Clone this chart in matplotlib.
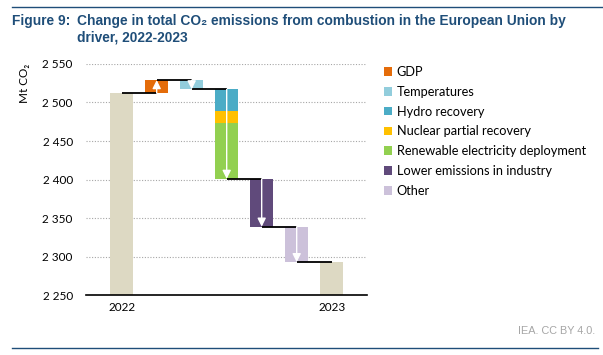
"""Waterfall of EU combustion CO2 emissions by driver, 2022-2023."""

import matplotlib.pyplot as plt
from matplotlib.patches import Patch

# data
start_label = "2022"
end_label = "2023"
start_value = 2512
drivers = [
    "GDP",
    "Temperatures",
    "Hydro recovery",
    "Nuclear partial recovery",
    "Renewable electricity deployment",
    "Lower emissions in industry",
    "Other",
]
changes = [17, -12, -28, -15, -73, -62, -46]
# drivers that share one stacked column (power sector)
power_stack = ["Hydro recovery", "Nuclear partial recovery", "Renewable electricity deployment"]
y_ticks = [2250, 2300, 2350, 2400, 2450, 2500, 2550]

colors = {
    "total": "#DDD9C3",
    "GDP": "#E46C0A",
    "Temperatures": "#92CDDC",
    "Hydro recovery": "#4BACC6",
    "Nuclear partial recovery": "#FFC000",
    "Renewable electricity deployment": "#92D050",
    "Lower emissions in industry": "#604A7B",
    "Other": "#CCC1DA",
}
BLUE = "#1F4E79"
FONT = ["Lato", "DejaVu Sans"]


def main() -> None:
    fig = plt.figure(figsize=(6.03, 3.55), dpi=100)
    ax = fig.add_axes([0.1426, 0.168, 0.4655, 0.652])
    width = 0.67

    # assign a column to every driver; the power drivers stack in one column
    slots = []
    slot = 0
    for i, name in enumerate(drivers):
        if not (i > 0 and name in power_stack and drivers[i - 1] in power_stack):
            slot += 1
        slots.append(slot)
    end_slot = slot + 1

    ax.bar(0, start_value - y_ticks[0], bottom=y_ticks[0], width=width,
           color=colors["total"], zorder=2)

    level = start_value
    slot_start = {}
    slot_end = {}
    for name, delta, s in zip(drivers, changes, slots):
        slot_start.setdefault(s, level)
        ax.bar(s, abs(delta), bottom=min(level, level + delta), width=width,
               color=colors[name], zorder=2)
        level += delta
        slot_end[s] = level
    end_value = level

    ax.bar(end_slot, end_value - y_ticks[0], bottom=y_ticks[0], width=width,
           color=colors["total"], zorder=2)

    # connectors from the centre of one column to the centre of the next
    prev_level = start_value
    for s in range(1, end_slot + 1):
        ax.plot([s - 1, s], [prev_level, prev_level], color="black", lw=1.3,
                solid_capstyle="butt", zorder=3)
        if s in slot_end:
            prev_level = slot_end[s]

    # white arrows inside each change column
    for s in sorted(slot_start):
        ax.annotate("", xy=(s, slot_end[s]), xytext=(s, slot_start[s]),
                    arrowprops=dict(arrowstyle="-|>,head_length=0.5,head_width=0.25",
                                    color="white", lw=1.0, shrinkA=0, shrinkB=0),
                    zorder=4)

    ax.set_xlim(-1.02, end_slot + 1.0)
    ax.set_ylim(y_ticks[0], y_ticks[-1])
    ax.set_yticks(y_ticks)
    ax.set_yticklabels([f"{v:,}".replace(",", " ") for v in y_ticks],
                       family=FONT, fontsize=8.5)
    ax.set_xticks([0, end_slot])
    ax.set_xticklabels([start_label, end_label], family=FONT, fontsize=8.5)
    ax.tick_params(axis="y", length=0, pad=9.5)
    ax.tick_params(axis="x", length=0, pad=5)
    ax.yaxis.grid(True, linestyle=(0, (1, 1.5)), color="#A6A6A6", lw=0.8)
    ax.set_axisbelow(True)
    for side in ("top", "right", "left"):
        ax.spines[side].set_visible(False)
    ax.spines["bottom"].set_color("black")
    ax.spines["bottom"].set_linewidth(1.2)
    ax.spines["bottom"].set_zorder(5)

    fig.text(24 / 603, 1 - 83 / 355, "Mt CO\u2082", rotation=90, ha="center",
             va="center", family=FONT, fontsize=8.5)

    handles = [Patch(facecolor=colors[d], edgecolor="none") for d in drivers]
    fig.legend(handles, drivers, loc="upper left", bbox_to_anchor=(384 / 603, 1 - 66 / 355),
               frameon=False, prop={"family": FONT, "size": 9.2},
               handlelength=0.65, handleheight=0.65, handletextpad=0.35,
               labelspacing=0.61, borderaxespad=0, borderpad=0)

    # title block and frame lines
    fig.add_artist(plt.Line2D([12 / 603, 1], [1 - 7 / 355] * 2, color=BLUE, lw=1.0))
    fig.add_artist(plt.Line2D([12 / 603, 598 / 603], [1 - 347.5 / 355] * 2, color=BLUE, lw=1.0))
    fig.text(12 / 603, 1 - 21 / 355, "Figure 9:", family="Liberation Sans",
             weight="bold", color=BLUE, fontsize=9.9, va="center")
    fig.text(77 / 603, 1 - 21 / 355,
             "Change in total CO\u2082 emissions from combustion in the European Union by",
             family="Liberation Sans", weight="bold", color=BLUE, fontsize=9.9, va="center")
    fig.text(77 / 603, 1 - 38 / 355, "driver, 2022-2023", family="Liberation Sans",
             weight="bold", color=BLUE, fontsize=9.9, va="center")
    fig.text(595 / 603, 1 - 331 / 355, "IEA. CC BY 4.0.", family="Liberation Sans",
             color="#A6A6A6", fontsize=7.8, ha="right", va="center")

    fig.savefig("out.png", dpi=100)


if __name__ == "__main__":
    main()
